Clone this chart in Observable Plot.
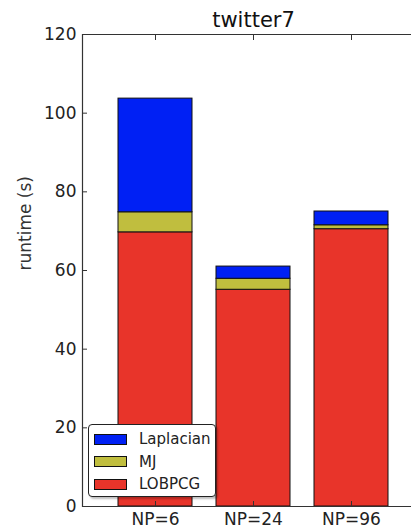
<!DOCTYPE html>
<html>
<head>
<meta charset="utf-8">
<script src="https://cdn.jsdelivr.net/npm/d3@7"></script>
<script src="https://cdn.jsdelivr.net/npm/@observablehq/plot@0.6"></script>
<style>
  html, body { margin: 0; padding: 0; background: #fff; overflow: hidden; }
  #wrap { position: relative; width: 411px; height: 526px; overflow: hidden; font-family: "DejaVu Sans", sans-serif; }
  #wrap svg { max-width: none !important; display: block; }
  #legend { position: absolute; left: 88px; top: 424px; width: 126px; height: 71px; border: 1.2px solid #222; border-radius: 4px; background: #fff; box-shadow: 2px 2px 2px rgba(0,0,0,0.25); }
  .row { position: absolute; left: 5px; height: 12px; display: flex; align-items: center; }
  .sw { width: 33px; height: 11px; border: 1px solid #111; box-sizing: border-box; }
  .lab { margin-left: 12px; font-size: 15px; color: #222; white-space: nowrap; }
</style>
</head>
<body>
<div id="wrap"></div>
<script>
const categories = ["NP=6", "NP=24", "NP=96"];
const series = ["LOBPCG", "MJ", "Laplacian"];
const lobpcg = [69.7, 55.1, 70.5];
const mj = [5.1, 2.8, 1.0];
const laplacian = [28.9, 3.1, 3.5];
const colors = ["#e8342a", "#c0be3e", "#0020f4"];
const yTicks = [0, 20, 40, 60, 80, 100, 120];
const yLimits = [0, 120];
const legendOrder = ["Laplacian", "MJ", "LOBPCG"];

const valuesBySeries = {LOBPCG: lobpcg, MJ: mj, Laplacian: laplacian};
const rows = [];
series.forEach(s => categories.forEach((c, i) => rows.push({cat: c, series: s, value: valuesBySeries[s][i]})));

const font = "DejaVu Sans, sans-serif";
const chart = Plot.plot({
  width: 424,
  height: 526,
  marginLeft: 82,
  marginTop: 34,
  marginBottom: 20,
  marginRight: 0,
  style: {fontFamily: font, fontSize: "17px", color: "#222", background: "white"},
  x: {domain: categories, paddingInner: 0.24, paddingOuter: 0.35, label: null},
  y: {domain: yLimits, label: null},
  color: {domain: series, range: colors},
  marks: [
    Plot.barY(rows, {x: "cat", y: "value", fill: "series", order: series, stroke: "#111", strokeWidth: 1}),
    Plot.frame({anchor: "left", stroke: "#333", strokeWidth: 1.2}),
    Plot.ruleY(yLimits, {stroke: "#333", strokeWidth: 1.2}),
    Plot.axisY({ticks: yTicks, tickSize: -5, tickFormat: () => "", stroke: "#333", label: null}),
    Plot.axisY({ticks: yTicks, tickSize: 0, tickPadding: 6, fontSize: 17, label: null}),
    Plot.axisX({anchor: "top", tickSize: -5, tickFormat: () => "", stroke: "#333", label: null}),
    Plot.axisX({anchor: "bottom", tickSize: -5, tickFormat: () => "", stroke: "#333", label: null}),
    Plot.axisX({anchor: "bottom", tickSize: 0, tickPadding: 6, fontSize: 17, label: null}),
    Plot.text(["twitter7"], {frameAnchor: "top", lineAnchor: "bottom", dy: -8, fontSize: 21, fill: "#111"}),
    Plot.text(["runtime (s)"], {frameAnchor: "left", rotate: -90, dx: -57, fontSize: 17, fill: "#333"})
  ]
});
const wrap = document.getElementById("wrap");
wrap.appendChild(chart);

const legend = document.createElement("div");
legend.id = "legend";
legendOrder.forEach((name, k) => {
  const row = document.createElement("div");
  row.className = "row";
  row.style.top = (8 + k * 22.5) + "px";
  const sw = document.createElement("div");
  sw.className = "sw";
  sw.style.background = colors[series.indexOf(name)];
  const lab = document.createElement("span");
  lab.className = "lab";
  lab.textContent = name;
  row.appendChild(sw);
  row.appendChild(lab);
  legend.appendChild(row);
});
wrap.appendChild(legend);
</script>
</body>
</html>
